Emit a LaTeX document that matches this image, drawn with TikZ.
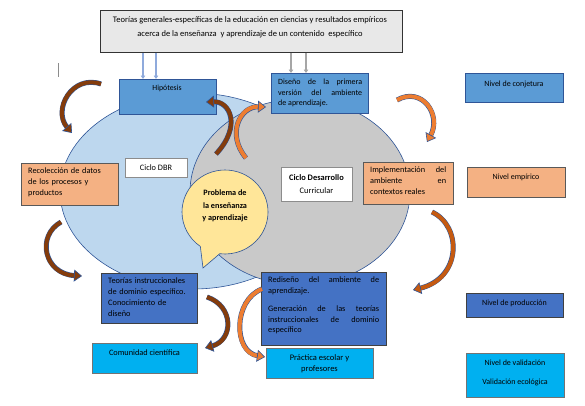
\documentclass[tikz,border=0pt]{standalone}
\usepackage{fontspec}
\setmainfont{Carlito}
\usetikzlibrary{arrows.meta,shapes.geometric,shapes.callouts}
\definecolor{topgray}{HTML}{E8E8E8}
\definecolor{lblue}{HTML}{BDD7EE}
\definecolor{egray}{HTML}{C9C9C9}
\definecolor{yel}{HTML}{FFE699}
\definecolor{mblue}{HTML}{5B9BD5}
\definecolor{dblue}{HTML}{4472C4}
\definecolor{peach}{HTML}{F4B183}
\definecolor{cyanb}{HTML}{00B0F0}
\definecolor{brownA}{HTML}{843C0C}
\definecolor{orangeA}{HTML}{ED7D31}
\definecolor{orangeB}{HTML}{C55A11}
\definecolor{outl}{HTML}{2F5597}
\definecolor{lbarrow}{HTML}{8FAADC}
\definecolor{gyarrow}{HTML}{A6A6A6}
\begin{document}
\begin{tikzpicture}[x=1pt,y=-1pt,font=\fontsize{8.3}{10.5}\selectfont,
  bx/.style={rectangle,anchor=north west,inner sep=0pt,line width=0.8pt},
  bluebox/.style={bx,fill=mblue,draw=outl},
  darkbox/.style={bx,fill=dblue,draw=black!75},
  peachbox/.style={bx,fill=peach,draw=black!65},
  cyanbox/.style={bx,fill=cyanb,draw=black!55},
  whitebox/.style={bx,fill=white,draw=black!45},
  txt/.style={anchor=north west,inner sep=0pt},
  ctxt/.style={inner sep=0pt,align=center},
  small/.style={font=\fontsize{8}{10.5}\selectfont},
  blockarrow/.style={line width=4pt,color=#1,
    preaction={draw=outl,line width=5pt,-,shorten >=7pt},
    -{Triangle[width=12pt,length=8pt,fill=#1,color=outl,line width=0.6pt]}},
  thinarrow/.style={line width=1.3pt,color=#1,-{Triangle[width=4.5pt,length=3.5pt]}}
]
\useasboundingbox (0,0) rectangle (585,405);

% ellipses
\node[ellipse,fill=lblue,draw=outl,line width=0.6pt,inner sep=0pt,
  minimum width=266pt,minimum height=196pt] (dbr) at (193,191) {};
\node[ellipse,fill=egray,draw=outl,line width=0.6pt,inner sep=0pt,
  minimum width=220pt,minimum height=186pt] (dc) at (300,192) {};

% top box
\node[bx,fill=topgray,draw=black!80,minimum width=302pt,minimum height=42pt] (top) at (100,10) {};
\node[ctxt,font=\fontsize{8.5}{14}\selectfont] (topT) at (250,27)
  {Teorías generales-específicas de la educación en ciencias y resultados empíricos\\
   acerca de la enseñanza\ \ y aprendizaje de un contenido\ \ específico};

% blue level boxes
\node[bluebox,minimum width=97pt,minimum height=35pt] (hip) at (119,79) {};
\node[ctxt,font=\fontsize{7.8}{10}\selectfont] (hipT) at (167,88) {Hipótesis};
\node[bluebox,minimum width=97pt,minimum height=40pt] (dis) at (271,73) {};
\node[txt,text width=84pt,align=justify,font=\fontsize{8}{10.3}\selectfont] (disT) at (278,79)
  {Diseño de la primera\linebreak versión del ambiente\linebreak de aprendizaje.};

% thin arrows from top box
\coordinate (xa) at (143,0);
\coordinate (xb) at (156,0);
\coordinate (xc) at (291,0);
\coordinate (xd) at (306,0);
\draw[thinarrow=lbarrow] (top.south -| xa) -- (hip.north -| xa);
\draw[thinarrow=lbarrow] (top.south -| xb) -- (hip.north -| xb);
\draw[thinarrow=gyarrow] (top.south -| xc) -- (dis.north -| xc);
\draw[thinarrow=gyarrow] (top.south -| xd) -- (dis.north -| xd);

% cycle labels
\node[whitebox,minimum width=62pt,minimum height=19pt] (cdbr) at (125,158) {};
\node[ctxt] (cdbrT) at (156,167.5) {Ciclo DBR};
\node[whitebox,minimum width=71pt,minimum height=34pt] (cdc) at (281,167) {};
\node[ctxt,font=\fontsize{8.4}{13.5}\selectfont] (cdcT) at (316.5,184) {\bfseries Ciclo Desarrollo\\Curricular};

% problem callout
\node[ellipse callout,fill=yel,draw=outl,line width=0.6pt,inner sep=0pt,
  minimum width=86pt,minimum height=84pt,
  callout absolute pointer={(203,268)},callout pointer arc=28] (prob) at (225,212) {};
\node[ctxt,font=\bfseries\fontsize{8.2}{12.5}\selectfont] (probT) at (225,206)
  {Problema de\\la enseñanza\\y aprendizaje};

% peach boxes
\node[peachbox,minimum width=97pt,minimum height=42pt] (rec) at (21,163) {};
\node[txt,text width=86pt,align=left,font=\fontsize{8.3}{11}\selectfont] (recT) at (28,168)
  {Recolección de datos\\de los procesos y\\productos};
\node[peachbox,minimum width=90pt,minimum height=42pt] (imp) at (363,162) {};
\node[txt,text width=76pt,align=justify,font=\fontsize{8.3}{11}\selectfont] (impT) at (370,167)
  {Implementación del\linebreak ambiente en\linebreak contextos reales};

% dark blue boxes
\node[darkbox,minimum width=96pt,minimum height=50pt] (teo) at (101,273) {};
\node[txt,text width=88pt,align=left,font=\fontsize{8.3}{11}\selectfont] (teoT) at (108,278)
  {Teorías instruccionales\\de dominio específico.\\Conocimiento de\\diseño};
\node[darkbox,minimum width=125pt,minimum height=73pt] (red) at (261,272) {};
\node[txt,text width=111pt,align=justify] (redT) at (268,277)
  {Rediseño del ambiente de\linebreak aprendizaje.\par\vspace{8pt}
   Generación de las teorías\linebreak instruccionales de dominio\linebreak específico};

% cyan boxes
\node[cyanbox,minimum width=105pt,minimum height=30pt] (com) at (92,343) {};
\node[ctxt] (comT) at (144.5,353) {Comunidad científica};
\node[cyanbox,minimum width=107pt,minimum height=30pt] (pra) at (266,348) {};
\node[ctxt,font=\fontsize{8.5}{11}\selectfont] (praT) at (319.5,364) {Práctica escolar y\\profesores};

% level column
\node[bluebox,minimum width=98pt,minimum height=29pt] (n1) at (465,73) {};
\node[ctxt,small] (n1T) at (514,84) {Nivel de conjetura};
\node[peachbox,minimum width=98pt,minimum height=30pt] (n2) at (467,167) {};
\node[ctxt,small] (n2T) at (516,177.5) {Nivel empírico};
\node[darkbox,minimum width=97pt,minimum height=24pt] (n3) at (466,293) {};
\node[ctxt,small] (n3T) at (514.5,303.5) {Nivel de producción};
\node[cyanbox,minimum width=98pt,minimum height=44pt] (n4) at (466,353) {};
\node[ctxt,font=\fontsize{8}{18.5}\selectfont] (n4T) at (515,373) {Nivel de validación\\Validación ecológica};

% stray mark
\draw[black!45,line width=0.6pt] (58,63) -- (58,77);

% curved block arrows
\coordinate (a1s) at (101,84);  \coordinate (a1e) at (72,133);
\coordinate (a2s) at (61,222);  \coordinate (a2e) at (82,276);
\coordinate (a3s) at (216,154); \coordinate (a3e) at (206,102);
\coordinate (a4s) at (246,158); \coordinate (a4e) at (266,107);
\coordinate (a5s) at (397,100); \coordinate (a5e) at (427,142);
\coordinate (a6s) at (432,212); \coordinate (a6e) at (413,290);
\coordinate (a7s) at (207,297); \coordinate (a7e) at (205,348);
\coordinate (a8s) at (262,289); \coordinate (a8e) at (265,357);
\draw[blockarrow=brownA] (a1s) .. controls (72,74) and (52,110) .. (a1e);
\draw[blockarrow=brownA] (a2s) .. controls (36,236) and (44,274) .. (a2e);
\draw[blockarrow=brownA] (a3s) .. controls (242,126) and (230,101) .. (a3e);
\draw[blockarrow=orangeA] (a4s) .. controls (226,134) and (240,106) .. (a4e);
\draw[blockarrow=orangeA] (a5s) .. controls (422,86) and (442,115) .. (a5e);
\draw[blockarrow=orangeB] (a6s) .. controls (462,226) and (462,278) .. (a6e);
\draw[blockarrow=brownA] (a7s) .. controls (234,306) and (234,340) .. (a7e);
\draw[blockarrow=orangeA] (a8s) .. controls (233,300) and (233,352) .. (a8e);
\end{tikzpicture}
\end{document}
